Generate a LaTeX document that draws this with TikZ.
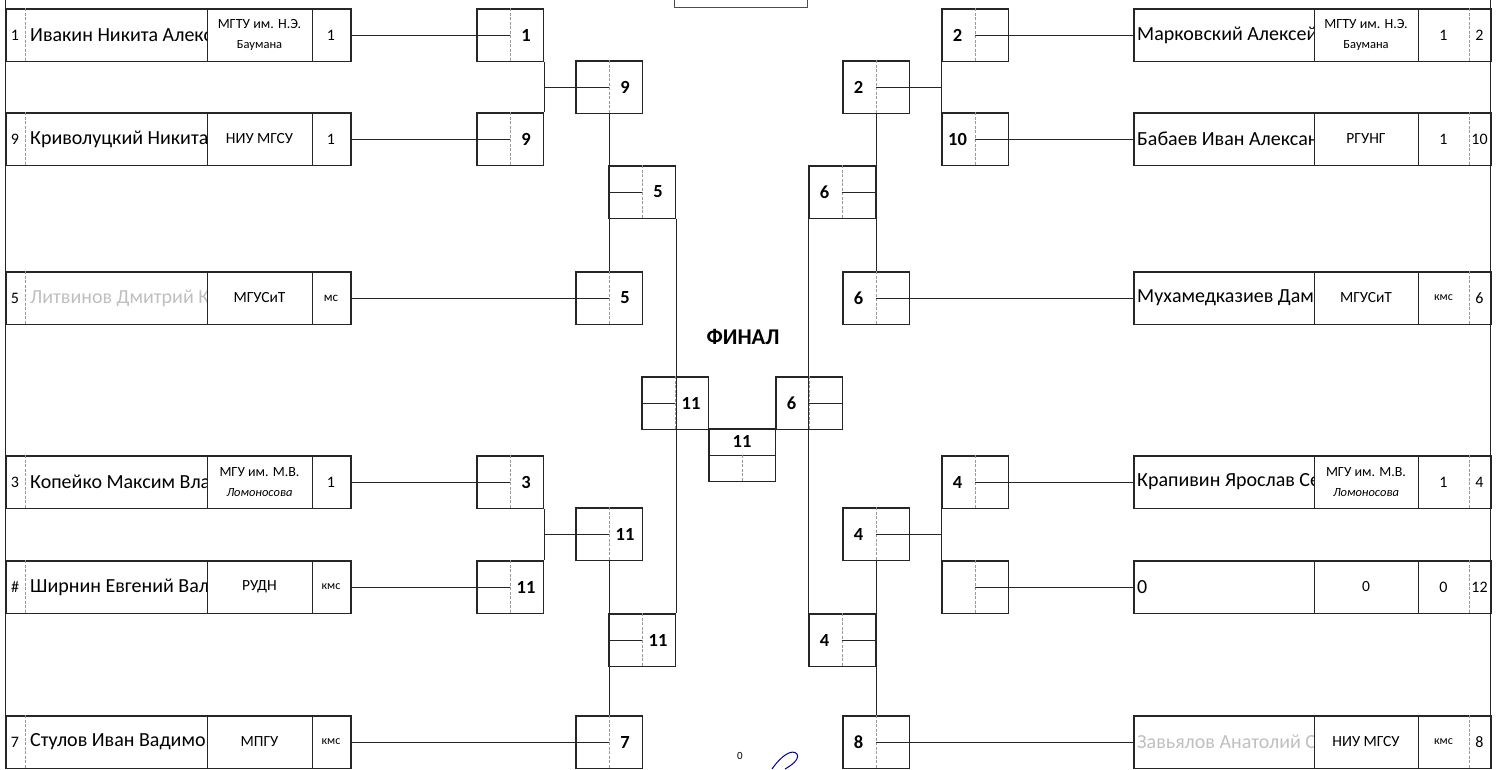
\documentclass[tikz,border=0pt]{standalone}
\usepackage{fontspec}
\setmainfont{Carlito}
\usetikzlibrary{calc}

\tikzset{
  cell/.style={draw=black!85, line width=1.5pt, minimum width=66.5pt, minimum height=52.5pt, inner sep=0pt, anchor=north west},
  rowbox/.style={draw=black!85, line width=1.5pt, minimum height=52.5pt, inner sep=0pt, anchor=north west},
  wire/.style={black!85, line width=1pt},
  halfline/.style={gray!80, dashed, dash pattern=on 3pt off 1.5pt, line width=0.7pt},
  num/.style={font=\fontsize{18.5}{20}\selectfont\bfseries, inner sep=0pt},
  player/.style={font=\fontsize{20}{22}\selectfont, anchor=west, inner sep=0pt},
  club/.style={font=\fontsize{15.5}{17}\selectfont, align=center, inner sep=0pt},
  rankt/.style={font=\fontsize{16}{17}\selectfont, inner sep=0pt}
}

\begin{document}
\begin{tikzpicture}[x=1pt,y=-1pt]
    \useasboundingbox (0,0) rectangle (1496,769);

% Variables: club, second line
        \def\twoline#1#2{{\fontsize{14}{15}\selectfont #1}\\[3pt]{\fontsize{12.5}{14}\selectfont #2}}
        \def\kms{{\fontsize{12}{13}\selectfont кмс}}

% Variables: name, x, y, number, shift of the number
        \def\mkBox#1#2#3#4#5{
            \node[cell] (#1) at (#2,#3) {};
            \draw[halfline] (#1.north) -- (#1.south);
            \node[num] (#1n) at ([xshift=#5pt]#1.west) {#4};
        }

% Variables: name, y, seed, player, club, rank, colour
        \def\mkRowL#1#2#3#4#5#6#7{
            \node[rowbox, minimum width=345pt] (#1) at (5,#2) {};
            \draw[halfline] ([xshift=20pt]#1.north west) -- ([xshift=20pt]#1.south west);
            \draw[wire] ([xshift=202pt]#1.north west) -- ([xshift=202pt]#1.south west);
            \draw[wire] ([xshift=307pt]#1.north west) -- ([xshift=307pt]#1.south west);
            \node[rankt] (#1s) at ([xshift=10pt]#1.west) {#3};
            \begin{scope}
                \clip ([xshift=21pt]#1.north west) rectangle ([xshift=201pt]#1.south west);
                \node[player, #7] (#1p) at ([xshift=25pt]#1.west) {#4};
            \end{scope}
            \node[club] (#1c) at ([xshift=254.5pt]#1.west) {#5};
            \node[rankt] (#1r) at ([xshift=326pt]#1.west) {#6};
        }
        \def\mkRowR#1#2#3#4#5#6#7{
            \node[rowbox, minimum width=357pt] (#1) at (1133,#2) {};
            \draw[wire] ([xshift=181pt]#1.north west) -- ([xshift=181pt]#1.south west);
            \draw[wire] ([xshift=285pt]#1.north west) -- ([xshift=285pt]#1.south west);
            \draw[halfline] ([xshift=336pt]#1.north west) -- ([xshift=336pt]#1.south west);
            \node[rankt] (#1s) at ([xshift=346.5pt]#1.west) {#3};
            \begin{scope}
                \clip ([xshift=1pt]#1.north west) rectangle ([xshift=180pt]#1.south west);
                \node[player, #7] (#1p) at ([xshift=4pt]#1.west) {#4};
            \end{scope}
            \node[club] (#1c) at ([xshift=233pt]#1.west) {#5};
            \node[rankt] (#1r) at ([xshift=310.5pt]#1.west) {#6};
        }

% outer frame and title box
        \draw[wire] (5,0) -- (5,769);
        \draw[wire] (1490,0) -- (1490,769);
        \draw[black!70, line width=1pt] (674,-10) rectangle (807,7);

% left players
\mkRowL{rowL1}{8}{1}{Ивакин Никита Алекс}{\twoline{МГТУ им. Н.Э.}{Баумана}}{1}{black};
\mkRowL{rowL9}{112}{9}{Криволуцкий Никита}{НИУ МГСУ}{1}{black};
\mkRowL{rowL5}{271}{5}{Литвинов Дмитрий К}{МГУСиТ}{{\fontsize{13}{14}\selectfont мс}}{gray!50};
\mkRowL{rowL3}{455}{3}{Копейко Максим Вла}{\twoline{МГУ им. М.В.}{\itshape Ломоносова}}{1}{black};
\mkRowL{rowL11}{560}{\#}{Ширнин Евгений Вал}{РУДН}{\kms}{black};
\mkRowL{rowL7}{715}{7}{Стулов Иван Вадимо}{МПГУ}{\kms}{black};

% right players
\mkRowR{rowR2}{8}{2}{Марковский Алексей}{\twoline{МГТУ им. Н.Э.}{Баумана}}{1}{black};
\mkRowR{rowR10}{112}{10}{Бабаев Иван Алексан}{РГУНГ}{1}{black};
\mkRowR{rowR6}{271}{6}{Мухамедказиев Дам}{МГУСиТ}{\kms}{black};
\mkRowR{rowR4}{455}{4}{Крапивин Ярослав Се}{\twoline{МГУ им. М.В.}{\itshape Ломоносова}}{1}{black};
\mkRowR{rowR12}{560}{12}{0}{0}{0}{black};
\mkRowR{rowR8}{715}{8}{Завьялов Анатолий С}{НИУ МГСУ}{\kms}{gray!50};

% left bracket
\mkBox{aa1}{476}{8}{1}{50};
\mkBox{aa9}{476}{112}{9}{50};
\mkBox{bb9}{575}{60}{9}{50};
\mkBox{bb5}{575}{271}{5}{50};
\mkBox{cc5}{608}{165}{5}{50};
\mkBox{dd11}{641}{376}{11}{50};
\mkBox{aa3}{476}{455}{3}{50};
\mkBox{aa11}{476}{560}{11}{50};
\mkBox{bb11}{575}{507}{11}{50};
\mkBox{bb7}{575}{715}{7}{50};
\mkBox{cc11}{608}{613}{11}{50};

% right bracket
\mkBox{ra2}{941}{8}{2}{16.6};
\mkBox{ra10}{941}{112}{10}{16.6};
\mkBox{rb2}{842}{60}{2}{16.6};
\mkBox{rb6}{842}{271}{6}{16.6};
\mkBox{rc6}{808}{165}{6}{16.6};
\mkBox{rd6}{775}{376}{6}{16.6};
\mkBox{ra4}{941}{455}{4}{16.6};
\mkBox{ra12}{941}{560}{}{16.6};
\mkBox{rb4}{842}{507}{4}{16.6};
\mkBox{rb8}{842}{715}{8}{16.6};
\mkBox{rc4}{808}{613}{4}{16.6};

% Final
        \node[font=\fontsize{22.5}{24}\selectfont\bfseries] (title) at (743,337) {ФИНАЛ};
        \node[cell] (fin) at (708,428) {};
        \draw[wire] (fin.west) -- (fin.east);
        \draw[halfline] (fin.center) -- (fin.south);
        \node[num] (finn) at ($(fin.north)!0.5!(fin.center)$) {11};

% left connectors
        \draw[wire] (rowL1.east) -- (aa1.center);
        \draw[wire] (rowL9.east) -- (aa9.center);
        \draw[wire] (aa1.south east) -- (aa9.north east);
        \draw[wire] (bb9.center) -- (bb9.center -| aa1.east);
        \draw[wire] (bb9.south) -- (bb5.north);
        \draw[wire] (cc5.west) -- (cc5.center);
        \draw[wire] (rowL5.east) -- (bb5.center);
        \draw[wire] (cc5.south east) -- (cc11.north east);
        \draw[wire] (dd11.west) -- (dd11.center);
        \draw[wire] (rowL3.east) -- (aa3.center);
        \draw[wire] (rowL11.east) -- (aa11.center);
        \draw[wire] (aa3.south east) -- (aa11.north east);
        \draw[wire] (bb11.center) -- (bb11.center -| aa3.east);
        \draw[wire] (bb11.south) -- (bb7.north);
        \draw[wire] (cc11.west) -- (cc11.center);
        \draw[wire] (rowL7.east) -- (bb7.center);

% right connectors
        \draw[wire] (ra2.center) -- (rowR2.west);
        \draw[wire] (ra10.center) -- (rowR10.west);
        \draw[wire] (ra2.south west) -- (ra10.north west);
        \draw[wire] (rb2.center) -- (rb2.center -| ra2.west);
        \draw[wire] (rb2.south) -- (rb6.north);
        \draw[wire] (rc6.center) -- (rc6.east);
        \draw[wire] (rb6.center) -- (rowR6.west);
        \draw[wire] (rc6.south west) -- (rc4.north west);
        \draw[wire] (rd6.center) -- (rd6.east);
        \draw[wire] (ra4.center) -- (rowR4.west);
        \draw[wire] (ra12.center) -- (rowR12.west);
        \draw[wire] (ra4.south west) -- (ra12.north west);
        \draw[wire] (rb4.center) -- (rb4.center -| ra4.west);
        \draw[wire] (rb4.south) -- (rb8.north);
        \draw[wire] (rc4.center) -- (rc4.east);
        \draw[wire] (rb8.center) -- (rowR8.west);

% signature
        \node[font=\fontsize{11}{12}\selectfont, inner sep=0pt] (zero) at (740,756) {0};
        \draw[blue!60!black, line width=1pt] (772,769) .. controls (780,757) and (792,748) .. (797,754) .. controls (800,760) and (790,766) .. (785,769);

\end{tikzpicture}
\end{document}
